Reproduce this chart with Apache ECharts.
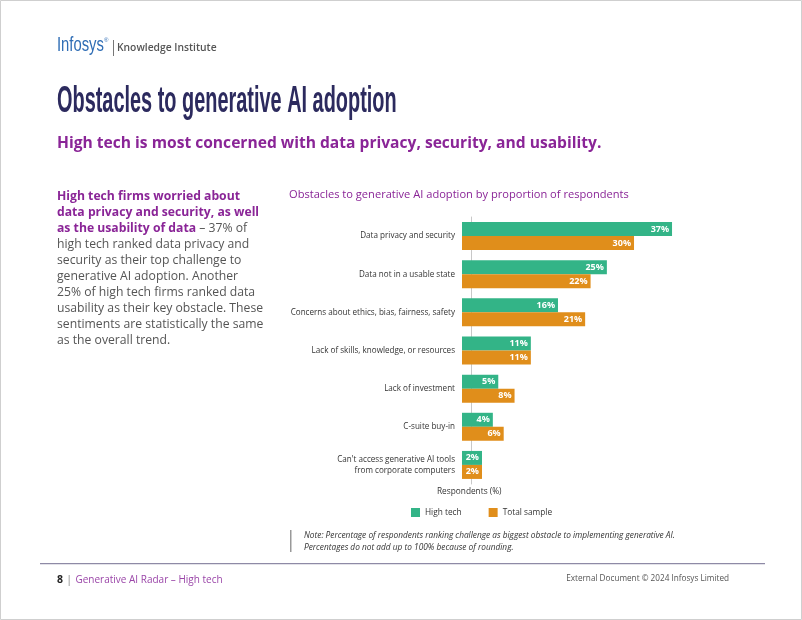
<!DOCTYPE html>
<html><head><meta charset="utf-8">
<script src="https://cdn.jsdelivr.net/npm/echarts@6/dist/echarts.min.js"></script>
<style>html,body{margin:0;padding:0;background:#fff}#c{width:802px;height:620px}</style>
</head><body><div id="c"></div>
<script>
const categories = ["Data privacy and security","Data not in a usable state","Concerns about ethics, bias, fairness, safety","Lack of skills, knowledge, or resources","Lack of investment","C-suite buy-in","Can't access generative AI tools\nfrom corporate computers"];
const highTech = [37,25,16,11,5,4,2];
const totalSample = [30,22,21,11,8,6,2];
const seriesNames = ["High tech","Total sample"];
const X_MIN = -1.68, X_MAX = 40;
const GREEN = "#33b487", ORANGE = "#e08e1b", PURPLE = "#8a2597", NAVY = "#2c2a5e";
const chart = echarts.init(document.getElementById('c'), null, {renderer:'canvas'});
const F = "'Open Sans', 'Noto Sans', sans-serif";
const body = [
 [{t:"High tech firms worried about",s:"b"}],
 [{t:"data privacy and security, as well",s:"b"}],
 [{t:"as the usability of data",s:"b"},{t:" – 37% of",s:"r"}],
 [{t:"high tech ranked data privacy and",s:"r"}],
 [{t:"security as their top challenge to",s:"r"}],
 [{t:"generative AI adoption. Another",s:"r"}],
 [{t:"25% of high tech firms ranked data",s:"r"}],
 [{t:"usability as their key obstacle. These",s:"r"}],
 [{t:"sentiments are statistically the same",s:"r"}],
 [{t:"as the overall trend.",s:"r"}]
];
const bodyText = body.map(l=>l.map(p=>'{'+p.s+'|'+p.t+'}').join('')).join('\n');
const BAR_H = 14;
function renderBar(params, api){
  const cat = api.value(0), val = api.value(1);
  const end = api.coord([val, cat]);
  const start = api.coord([X_MIN, cat]);
  const y = end[1] + (params.seriesIndex === 0 ? -BAR_H : 0);
  return {type:'group',children:[
    {type:'rect',shape:{x:start[0],y:y,width:end[0]-start[0],height:BAR_H},style:{fill:api.visual('color')}},
    {type:'text',x:end[0]-3,y:y+BAR_H/2,style:{text:val+'%',fill:'#fff',fontSize:9,fontWeight:'bold',fontFamily:F,align:'right',verticalAlign:'middle'}}
  ]};
}
chart.setOption({
  animation:false,
  textStyle:{fontFamily:F},
  grid:{left:462,width:(X_MAX-X_MIN)*5.43,top:217,height:267,containLabel:false},
  xAxis:{type:'value',min:X_MIN,max:X_MAX,show:false},
  yAxis:{type:'category',data:categories,inverse:true,
    axisLine:{show:true,lineStyle:{color:'#c8c8c8',width:1}},axisTick:{show:false},
    axisLabel:{fontSize:8.1,color:'#333',margin:7,lineHeight:11,fontFamily:F}},
  legend:{left:411,top:508,padding:0,itemWidth:9,itemHeight:9,itemGap:27,icon:'rect',
    textStyle:{fontSize:8.3,color:'#333'},data:seriesNames},
  series:[
    {name:seriesNames[0],type:'custom',renderItem:renderBar,itemStyle:{color:GREEN},
     encode:{x:1,y:0},data:highTech.map((v,i)=>[i,v])},
    {name:seriesNames[1],type:'custom',renderItem:renderBar,itemStyle:{color:ORANGE},
     encode:{x:1,y:0},data:totalSample.map((v,i)=>[i,v])}
  ],
  graphic:[
    {type:'rect',shape:{x:0.5,y:0.5,width:801,height:619},style:{fill:'none',stroke:'#cfcfcf',lineWidth:1},silent:true},
    {type:'text',x:57,y:35,scaleX:0.74,style:{text:'Infosys',fontSize:20,fill:'#2f6db5',fontFamily:"'Liberation Sans Narrow','Liberation Sans',sans-serif"}},
    {type:'text',left:104,top:37,style:{text:'®',fontSize:6,fill:'#2f6db5'}},
    {type:'rect',shape:{x:113,y:40,width:1,height:16},style:{fill:'#777'}},
    {type:'text',left:117,top:43,style:{text:'Knowledge Institute',fontSize:10.3,fontWeight:600,fill:'#555',fontFamily:F}},
    {type:'text',x:57,y:84,scaleX:0.553,style:{text:'Obstacles to generative AI adoption',fontSize:36,fontWeight:'bold',fill:NAVY,fontFamily:"'Liberation Sans Narrow','Liberation Sans',sans-serif"}},
    {type:'text',left:57,top:136,style:{text:'High tech is most concerned with data privacy, security, and usability.',fontSize:15.6,fontWeight:'bold',fill:PURPLE,fontFamily:F}},
    {type:'text',left:57,top:188,style:{text:bodyText,lineHeight:16.1,fontFamily:F,
      rich:{b:{fontSize:12.2,fontWeight:'bold',fill:PURPLE,fontFamily:F,lineHeight:16.1},
            r:{fontSize:12.2,fill:'#555',fontFamily:F,lineHeight:16.1}}}},
    {type:'text',left:289,top:189,style:{text:'Obstacles to generative AI adoption by proportion of respondents',fontSize:11.1,fill:PURPLE,fontFamily:F}},
    {type:'text',left:437,top:488,style:{text:'Respondents (%)',fontSize:8.3,fill:'#333',fontFamily:F}},
    {type:'rect',shape:{x:290,y:530,width:1.5,height:22},style:{fill:'#999'}},
    {type:'text',left:304,top:530,style:{text:'Note: Percentage of respondents ranking challenge as biggest obstacle to implementing generative AI.\nPercentages do not add up to 100% because of rounding.',fontSize:8.3,lineHeight:11.5,fontStyle:'italic',fill:'#333',fontFamily:F}},
    {type:'rect',shape:{x:40,y:563,width:725,height:1.2},style:{fill:'#8e8aa6'}},
    {type:'text',left:57,top:574,style:{text:'{a|8} {s||} {p|Generative AI Radar – High tech}',rich:{a:{fontSize:10.5,fontWeight:'bold',fill:'#222',fontFamily:F},s:{fontSize:10.5,fill:'#888',fontFamily:F},p:{fontSize:10,fill:'#9a45a8',fontFamily:F}}}},
    {type:'text',right:73,top:575,style:{text:'External Document © 2024 Infosys Limited',fontSize:8.2,fill:'#555',fontFamily:F}}
  ]
});
</script></body></html>
